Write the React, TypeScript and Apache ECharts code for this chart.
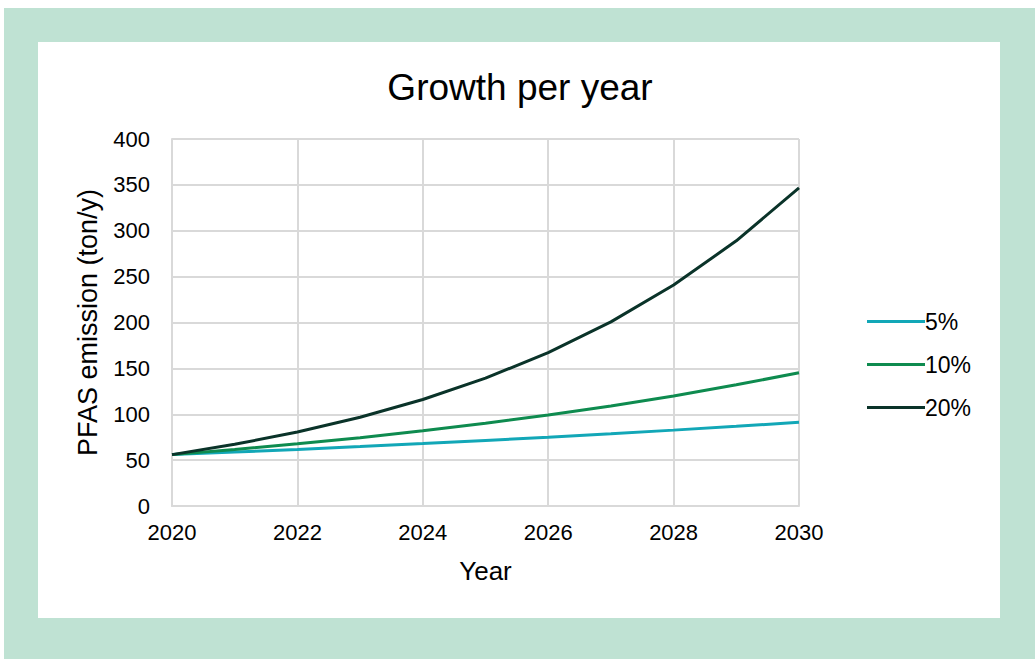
import React, { useEffect, useRef } from "react";
import * as echarts from "echarts";

const years = [2020, 2021, 2022, 2023, 2024, 2025, 2026, 2027, 2028, 2029, 2030];
const growth5 = [56, 58.8, 61.7, 64.8, 68.1, 71.5, 75.0, 78.8, 82.7, 86.9, 91.2];
const growth10 = [56, 61.6, 67.8, 74.5, 82.0, 90.2, 99.2, 109.1, 120.0, 132.1, 145.2];
const growth20 = [56, 67.2, 80.6, 96.8, 116.1, 139.3, 167.2, 200.7, 240.8, 289.0, 346.7];
const seriesNames = ["5%", "10%", "20%"];
const colors = ["#12a7b7", "#0e8b4f", "#0a3329"];

export default function App() {
  const ref = useRef<HTMLDivElement>(null);
  useEffect(() => {
    if (!ref.current) return;
    const chart = echarts.init(ref.current, null, { renderer: "svg" });
    const font = "Arial, 'Liberation Sans', sans-serif";
    const mk = (name: string, vals: number[], color: string) => ({
      name,
      type: "line",
      data: years.map((y, i) => [y, vals[i]]),
      showSymbol: false,
      symbol: "none",
      lineStyle: { color, width: 3 },
      itemStyle: { color },
      z: 3,
    });
    chart.setOption({
      animation: false,
      backgroundColor: "transparent",
      title: {
        text: "Growth per year",
        left: 515,
        top: 64,
        textAlign: "center",
        textStyle: { fontFamily: font, fontSize: 37, fontWeight: "normal", color: "#000" },
      },
      legend: {
        orient: "vertical",
        left: 862,
        top: 305,
        itemWidth: 58,
        itemHeight: 3,
        itemGap: 20,
        icon: "rect",
        data: seriesNames,
        textStyle: { fontFamily: font, fontSize: 23, color: "#000", lineHeight: 23, padding: [0, 0, 0, -5] },
      },
      grid: { left: 172, top: 139, width: 627, height: 367 },
      xAxis: {
        type: "value",
        min: 2020,
        max: 2030,
        interval: 2,
        name: "Year",
        nameLocation: "middle",
        nameGap: 52,
        nameTextStyle: { fontFamily: font, fontSize: 26, color: "#000" },
        axisLine: { show: true, lineStyle: { color: "#d9d9d9", width: 2 } },
        axisTick: { show: false },
        splitLine: { show: true, lineStyle: { color: "#d9d9d9", width: 2 } },
        axisLabel: { fontFamily: font, fontSize: 22, color: "#000", margin: 15, formatter: (v: number) => String(v) },
      },
      yAxis: {
        type: "value",
        min: 0,
        max: 400,
        interval: 50,
        name: "PFAS emission (ton/y)",
        nameLocation: "middle",
        nameGap: 71,
        nameRotate: 90,
        nameTextStyle: { fontFamily: font, fontSize: 27, color: "#000" },
        axisLine: { show: true, lineStyle: { color: "#d9d9d9", width: 2 } },
        axisTick: { show: false },
        splitLine: { show: true, lineStyle: { color: "#d9d9d9", width: 2 } },
        axisLabel: { fontFamily: font, fontSize: 22, color: "#000", margin: 22 },
      },
      series: [
        mk(seriesNames[0], growth5, colors[0]),
        mk(seriesNames[1], growth10, colors[1]),
        mk(seriesNames[2], growth20, colors[2]),
      ],
    });
    return () => chart.dispose();
  }, []);
  return (
    <div style={{ position: "fixed", left: 0, top: 0, width: 1035, height: 659, background: "#fff" }}>
      <div style={{ position: "absolute", left: 4, top: 8, width: 1031, height: 651, background: "#bfe2d3" }} />
      <div style={{ position: "absolute", left: 38, top: 42, width: 962, height: 576, background: "#fff" }} />
      <div ref={ref} style={{ position: "absolute", left: 0, top: 0, width: 1035, height: 659 }} />
    </div>
  );
}
